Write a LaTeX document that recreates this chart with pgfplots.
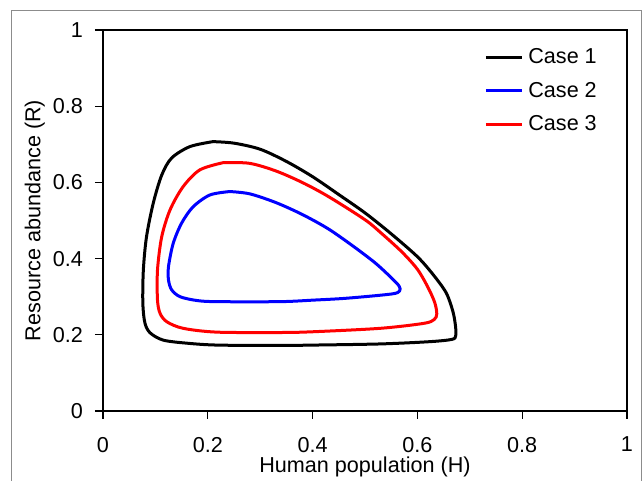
\documentclass[border=0pt]{standalone}
\usepackage{pgfplots}
\pgfplotsset{compat=1.18}
\usepackage{fontspec}
\setmainfont{Liberation Sans}

\definecolor{framegray}{RGB}{140,140,140}

\begin{document}
\begin{tikzpicture}
\path[use as bounding box] (-51.5pt,-35pt) rectangle (270pt,205.5pt);
\draw[framegray, line width=0.5pt] (-45.7pt,-36pt) -- (-45.7pt,200pt) -- (269.3pt,200pt) -- (269.3pt,-36pt);
\begin{axis}[
    at={(0,0)}, anchor=south west,
    scale only axis,
    width=262pt, height=190.5pt,
    xmin=0, xmax=1, ymin=0, ymax=1,
    xtick={0,0.2,0.4,0.6,0.8,1},
    ytick={0,0.2,0.4,0.6,0.8,1},
    xtick pos=bottom, ytick pos=left,
    tick align=outside,
    major tick length=4pt,
    every tick/.style={black, line width=0.6pt},
    axis line style={black, line width=0.9pt},
    font=\fontsize{10.8}{13}\selectfont,
    /pgf/number format/assume math mode=true,
    xticklabel style={/pgf/number format/fixed, yshift=-5.5pt},
    yticklabel style={/pgf/number format/fixed, xshift=-2.5pt},
    xlabel={Human population (H)},
    ylabel={Resource abundance (R)},
    x label style={at={(axis description cs:0.5,-0.147)}, anchor=center},
    y label style={at={(axis description cs:-0.13,0.5)}, anchor=center},
    legend cell align=left,
    legend style={draw=none, fill=none, at={(0.727,0.966)}, anchor=north west,
        font=\fontsize{10.8}{13}\selectfont, inner sep=0pt, row sep=2.75pt,
        nodes={inner sep=2.5pt}},
    legend image code/.code={\draw[#1] (0pt,0pt) -- (18pt,0pt);},
]

% Case 1
\addplot[black, line width=1.5pt, smooth, tension=0.5] coordinates {
(0.210,0.707) (0.250,0.703) (0.300,0.687) (0.350,0.655) (0.400,0.615)
(0.450,0.568) (0.500,0.520) (0.550,0.465) (0.600,0.405) (0.630,0.358)
(0.655,0.310) (0.668,0.260) (0.673,0.220) (0.673,0.197) (0.666,0.188)
(0.624,0.182) (0.529,0.176) (0.401,0.173) (0.338,0.172) (0.218,0.173)
(0.160,0.178) (0.115,0.186) (0.090,0.205) (0.080,0.231) (0.076,0.283)
(0.077,0.370) (0.083,0.457) (0.096,0.546) (0.112,0.619) (0.131,0.664)
(0.166,0.694) (0.210,0.707)
};
\addlegendentry{Case 1}

% Case 2
\addplot[blue, line width=1.5pt, smooth, tension=0.5] coordinates {
(0.242,0.576) (0.280,0.570) (0.330,0.547) (0.380,0.516) (0.430,0.478)
(0.480,0.430) (0.520,0.388) (0.550,0.350) (0.565,0.328) (0.566,0.315)
(0.550,0.307) (0.465,0.296) (0.401,0.291) (0.338,0.287) (0.217,0.287)
(0.179,0.290) (0.147,0.300) (0.131,0.318) (0.125,0.344) (0.125,0.379)
(0.134,0.440) (0.150,0.493) (0.172,0.536) (0.204,0.567) (0.242,0.576)
};
\addlegendentry{Case 2}

% Case 3
\addplot[red, line width=1.5pt, smooth, tension=0.5] coordinates {
(0.230,0.652) (0.280,0.650) (0.330,0.630) (0.380,0.600) (0.430,0.563)
(0.500,0.502) (0.530,0.468) (0.570,0.418) (0.600,0.372) (0.620,0.325)
(0.633,0.285) (0.637,0.255) (0.632,0.240) (0.612,0.230) (0.529,0.217)
(0.401,0.208) (0.338,0.206) (0.217,0.207) (0.153,0.217) (0.122,0.234)
(0.109,0.256) (0.104,0.291) (0.104,0.370) (0.112,0.457) (0.128,0.528)
(0.153,0.589) (0.185,0.633) (0.230,0.652)
};
\addlegendentry{Case 3}

\end{axis}
\end{tikzpicture}
\end{document}
